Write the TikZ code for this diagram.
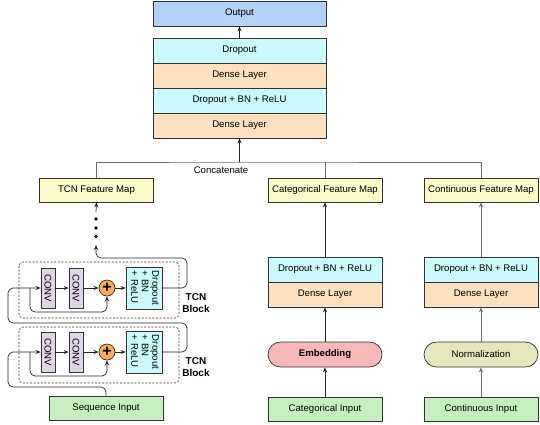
\documentclass[tikz,border=0pt]{standalone}
\usepackage{fontspec}
\setmainfont{Liberation Sans}
\usetikzlibrary{arrows.meta}
\definecolor{cOut}{RGB}{180,210,245}
\definecolor{cCyan}{RGB}{204,250,252}
\definecolor{cPeach}{RGB}{253,224,192}
\definecolor{cYellow}{RGB}{250,250,200}
\definecolor{cGreen}{RGB}{198,239,192}
\definecolor{cPink}{RGB}{248,184,184}
\definecolor{cOlive}{RGB}{230,230,190}
\definecolor{cLav}{RGB}{224,212,232}
\definecolor{cOrange}{RGB}{250,170,90}
\definecolor{cLine}{RGB}{110,110,110}
\tikzset{
  blk/.style={draw=black!80, line width=0.7pt, minimum height=25pt, inner sep=0pt, font=\fontsize{9.6}{11}\selectfont},
  wide/.style={blk, minimum width=173pt},
  mid/.style={blk, minimum width=114pt},
  pill/.style={mid, rounded corners=12.5pt},
  conv/.style={draw=black!80, line width=0.7pt, fill=cLav, minimum width=14pt, minimum height=40pt, inner sep=0pt, font=\fontsize{9.6}{11}\selectfont},
  drop/.style={draw=black!80, line width=0.7pt, fill=cCyan, minimum width=36pt, minimum height=42pt, inner sep=0pt, font=\fontsize{9.6}{10.5}\selectfont},
  plus/.style={circle, draw=black!80, line width=0.7pt, fill=cOrange, minimum size=16pt, inner sep=0pt, font=\bfseries\fontsize{16}{16}\selectfont},
  tcnbox/.style={draw=black!80, dash pattern=on 2pt off 1.6pt, line width=0.6pt, rounded corners=4pt},
  arr/.style={-{Stealth[length=5pt,width=4pt]}, line width=0.7pt, black!85},
  garr/.style={-{Stealth[length=5pt,width=4pt]}, line width=0.7pt, cLine},
  gln/.style={line width=0.7pt, cLine},
  lbl/.style={font=\fontsize{9.6}{11}\selectfont},
}
\begin{document}
\begin{tikzpicture}[x=1pt,y=-1pt]
\useasboundingbox (0,0) rectangle (540,424);
% top stack
\node[wide, fill=cOut, minimum height=25pt] (out) at (239.5,13.5) {Output};
\node[wide, fill=cCyan] (d1) at (239.5,50.5) {Dropout};
\node[wide, fill=cPeach] (d2) at (239.5,75.5) {Dense Layer};
\node[wide, fill=cCyan] (d3) at (239.5,100.5) {Dropout + BN + ReLU};
\node[wide, fill=cPeach] (d4) at (239.5,125.5) {Dense Layer};
\draw[arr] (d1.north) -- (out.south);
% feature maps
\node[mid, fill=cYellow, minimum height=24pt] (tfm) at (96.5,190) {TCN Feature Map};
\node[mid, fill=cYellow, minimum height=24pt] (cfm) at (325,190) {Categorical Feature Map};
\node[mid, fill=cYellow, minimum height=24pt] (nfm) at (481,190) {Continuous Feature Map};
% concatenate
\coordinate (cc) at (239.5,162);
\draw[gln] (tfm.north) |- (cc) -| (nfm.north);
\draw[gln] (cfm.north) -- (cfm.north |- cc);
\draw[arr] (cc) -- (d4.south);
\node[lbl, anchor=north] (cat) at (221,163) {Concatenate};
% categorical branch
\node[mid, fill=cCyan] (cdr) at (325,269.5) {Dropout + BN + ReLU};
\node[mid, fill=cPeach] (cde) at (325,294.5) {Dense Layer};
\node[pill, fill=cPink, font=\bfseries\fontsize{9.6}{11}\selectfont] (emb) at (325,354.5) {Embedding};
\node[mid, fill=cGreen, minimum height=24pt] (cin) at (325,409) {Categorical Input};
\draw[arr] (cin.north) -- (emb.south);
\draw[arr] (emb.north) -- (cde.south);
\draw[arr] (cdr.north) -- (cfm.south);
% continuous branch
\node[mid, fill=cCyan] (ndr) at (481,269.5) {Dropout + BN + ReLU};
\node[mid, fill=cPeach] (nde) at (481,294.5) {Dense Layer};
\node[pill, fill=cOlive] (nrm) at (481,354.5) {Normalization};
\node[mid, fill=cGreen, minimum height=24pt] (nin) at (481,409) {Continuous Input};
\draw[garr] (nin.north) -- (nrm.south);
\draw[garr] (nrm.north) -- (nde.south);
\draw[garr] (ndr.north) -- (nfm.south);
% TCN blocks
\draw[tcnbox] (19,262) rectangle (179,318);
\draw[tcnbox] (19,327) rectangle (179,383);
\node[font=\bfseries\fontsize{10}{11.5}\selectfont, align=center] (tb1) at (196,303) {TCN\\Block};
\node[font=\bfseries\fontsize{10}{11.5}\selectfont, align=center] (tb2) at (196,367) {TCN\\Block};
% upper block
\node[conv] (ua) at (48,288) {\rotatebox{-90}{CONV}};
\node[conv] (ub) at (76,288) {\rotatebox{-90}{CONV}};
\node[plus] (up) at (107,288) {+};
\node[drop] (ud) at (144,288) {\rotatebox{-90}{\begin{tabular}{@{}l@{}}Dropout\\+ BN\\+ ReLU\end{tabular}}};
% lower block
\node[conv] (la) at (48,352) {\rotatebox{-90}{CONV}};
\node[conv] (lb) at (76,352) {\rotatebox{-90}{CONV}};
\node[plus] (lp) at (107,352) {+};
\node[drop] (ld) at (144,352) {\rotatebox{-90}{\begin{tabular}{@{}l@{}}Dropout\\+ BN\\+ ReLU\end{tabular}}};
\node[mid, fill=cGreen, minimum height=24pt] (sin) at (106,408) {Sequence Input};
% internal arrows
\draw[arr] (ua) -- (ub);
\draw[arr] (ub) -- (up);
\draw[arr] (up) -- (ud);
\draw[arr] (la) -- (lb);
\draw[arr] (lb) -- (lp);
\draw[arr] (lp) -- (ld);
% lower entry and skip
\draw[arr, rounded corners=5pt] (sin.north) -- (106,387) -- (8,387) -- (8,352) -- (la.west);
\draw[arr, rounded corners=5pt] (30,352) -- (30,376) -- (107,376) -- (lp.south);
% lower -> upper
\draw[arr, rounded corners=5pt] (ld.east) -- (187,352) -- (187,323) -- (8,323) -- (8,288) -- (ua.west);
\draw[arr, rounded corners=5pt] (30,288) -- (30,312) -- (107,312) -- (up.south);
% upper -> feature map
\coordinate (dt) at (96,245);
\draw[arr, rounded corners=5pt] (ud.east) -- (187,288) -- (187,258) -- (96,258) -- (dt);
\foreach \yy/\nm in {219/p1,228/p2,236.5/p3} \fill[black] (96,\yy) circle (1.9pt) coordinate (\nm);
\coordinate (ds) at (96,212);
\draw[arr] (ds) -- (tfm.south);
\end{tikzpicture}
\end{document}
